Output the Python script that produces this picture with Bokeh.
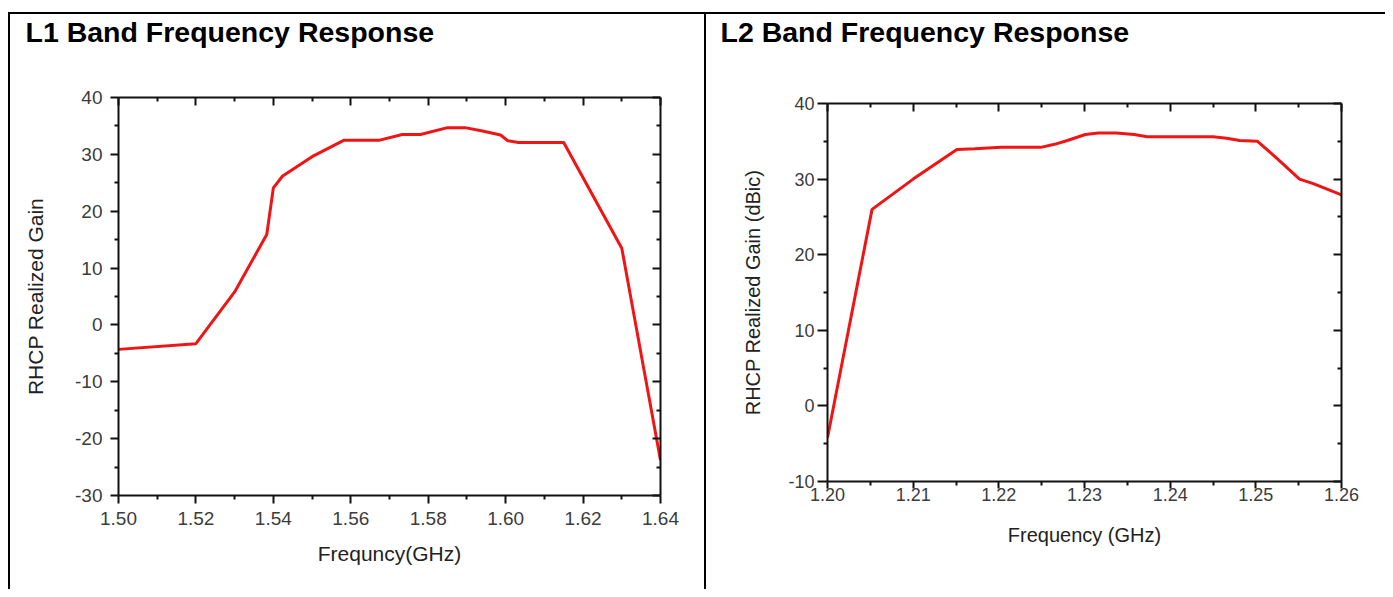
from bokeh.plotting import figure
from bokeh.models import (Range1d, FixedTicker, LinearAxis, PrintfTickFormatter,
                          CustomJSTickFormatter, Spacer)
from bokeh.layouts import row, column
from bokeh.embed import file_html
from bokeh.resources import INLINE

# ---------------- data ----------------
l1_title = "L1 Band Frequency Response"
l1_xlabel = "Frequncy(GHz)"
l1_ylabel = "RHCP Realized Gain"
l1_freq = [1.500, 1.520, 1.530, 1.5383, 1.540, 1.5424, 1.550, 1.5583, 1.5675, 1.5733,
           1.578, 1.585, 1.5895, 1.594, 1.5987, 1.6005, 1.6033, 1.615, 1.630, 1.640]
l1_gain = [-4.3, -3.3, 5.8, 15.9, 24.1, 26.2, 29.6, 32.5, 32.5, 33.5,
           33.5, 34.7, 34.7, 34.1, 33.4, 32.4, 32.1, 32.1, 13.5, -23.8]
l1_xticks = [1.50, 1.52, 1.54, 1.56, 1.58, 1.60, 1.62, 1.64]
l1_xminor = [1.51, 1.53, 1.55, 1.57, 1.59, 1.61, 1.63]
l1_yticks = [-30, -20, -10, 0, 10, 20, 30, 40]
l1_yminor = [-25, -15, -5, 5, 15, 25, 35]

l2_title = "L2 Band Frequency Response"
l2_xlabel = "Frequency (GHz)"
l2_ylabel = "RHCP Realized Gain (dBic)"
l2_freq = [1.200, 1.2052, 1.210, 1.2151, 1.2172, 1.2203, 1.2249, 1.2265, 1.228, 1.2301,
           1.2316, 1.2337, 1.2358, 1.2373, 1.245, 1.2466, 1.2481, 1.2502, 1.2523, 1.2551,
           1.2567, 1.260]
l2_gain = [-4.2, 26.0, 30.0, 33.9, 34.0, 34.2, 34.2, 34.6, 35.1, 35.9,
           36.1, 36.1, 35.9, 35.6, 35.6, 35.4, 35.1, 35.0, 32.9, 30.0,
           29.4, 27.9]
l2_xticks = [1.20, 1.21, 1.22, 1.23, 1.24, 1.25, 1.26]
l2_xminor = [1.205, 1.215, 1.225, 1.235, 1.245, 1.255]
l2_yticks = [-10, 0, 10, 20, 30, 40]
l2_yminor = [-5, 5, 15, 25, 35]

FONT = "Liberation Sans"
LINE_RED = "#f01414"
TXT = "#3c3c3c"


def mirror_axis(ticker):
    # top / right frame edge with inward ticks and no labels
    return LinearAxis(ticker=ticker, formatter=CustomJSTickFormatter(code="return ''"),
                      axis_line_width=2, axis_line_color="#111111",
                      major_tick_in=8, major_tick_out=0, minor_tick_in=4, minor_tick_out=0,
                      major_tick_line_width=2, minor_tick_line_width=2,
                      major_tick_line_color="#111111", minor_tick_line_color="#111111",
                      major_label_standoff=0)


def make_chart(title, xlabel, ylabel, freq, gain, xticks, xminor, yticks, yminor,
               xr, yr, width, height, borders, title_offset, title_standoff, top_gap,
               tick_fs, label_fs, ytick_out, ystand, xtick_out, xstand, ylab_stand, xlab_stand):
    p = figure(width=width, height=height, output_backend="svg", toolbar_location=None,
               x_range=Range1d(*xr), y_range=Range1d(*yr),
               min_border_left=borders[0], min_border_right=borders[1],
               min_border_top=borders[2], min_border_bottom=borders[3],
               background_fill_color="white", border_fill_color="white",
               outline_line_color=None, title=title)
    p.title.align = "left"
    p.title.offset = title_offset
    p.title.standoff = title_standoff
    p.title.text_font = FONT
    p.title.text_font_size = "28.5px"
    p.title.text_font_style = "bold"
    p.title.text_color = "black"
    p.grid.visible = False

    xt = FixedTicker(ticks=xticks, minor_ticks=xminor)
    yt = FixedTicker(ticks=yticks, minor_ticks=yminor)

    for ax, tk, fmt, tout, stand, lab, lstand in (
            (p.xaxis[0], xt, "%.2f", xtick_out, xstand, xlabel, xlab_stand),
            (p.yaxis[0], yt, "%d", ytick_out, ystand, ylabel, ylab_stand)):
        ax.ticker = tk
        ax.formatter = PrintfTickFormatter(format=fmt)
        ax.axis_line_width = 2
        ax.axis_line_color = "#111111"
        ax.major_tick_line_width = 2
        ax.major_tick_line_color = "#111111"
        ax.minor_tick_line_width = 2
        ax.minor_tick_line_color = "#111111"
        ax.major_tick_in = 0
        ax.major_tick_out = tout
        ax.minor_tick_in = 0
        ax.minor_tick_out = 4
        ax.major_label_standoff = stand
        ax.major_label_text_font = FONT
        ax.major_label_text_font_size = tick_fs
        ax.major_label_text_color = TXT
        ax.axis_label = lab
        ax.axis_label_text_font = FONT
        ax.axis_label_text_font_size = label_fs
        ax.axis_label_text_font_style = "normal"
        ax.axis_label_text_color = "#222222"
        ax.axis_label_standoff = lstand

    p.add_layout(mirror_axis(xt), "above")
    # blank band between the cell heading and the plot frame
    gap_axis = LinearAxis(ticker=xt, formatter=CustomJSTickFormatter(code="return ''"),
                          axis_line_color=None, major_tick_line_color=None,
                          minor_tick_line_color=None, major_tick_in=0,
                          major_tick_out=top_gap, minor_tick_in=0, minor_tick_out=0,
                          major_label_standoff=0)
    p.add_layout(gap_axis, "above")
    p.add_layout(mirror_axis(yt), "right")

    p.line(freq, gain, line_color=LINE_RED, line_width=3)
    return p


p1 = make_chart(l1_title, l1_xlabel, l1_ylabel, l1_freq, l1_gain, l1_xticks, l1_xminor,
                l1_yticks, l1_yminor, (1.50, 1.64), (-30, 40), 694, 575,
                (108, 44, 83, 94), -93, -25, 62, "19px", "21px",
                8, 8, 8, 8, 25, 14)
p2 = make_chart(l2_title, l2_xlabel, l2_ylabel, l2_freq, l2_gain, l2_xticks, l2_xminor,
                l2_yticks, l2_yminor, (1.20, 1.26), (-10, 40), 679, 575,
                (121, 44, 89, 108), -107, -25, 68, "18px", "20px",
                10, 3, 7, -1, 21, 20)

vline1 = Spacer(width=2, height=575, styles={"background-color": "black"})
vline2 = Spacer(width=2, height=575, styles={"background-color": "black"})
hline = Spacer(width=1377, height=2, styles={"background-color": "black"})
gap = Spacer(width=1385, height=12)
lgap = Spacer(width=8, height=577)

table = column(hline, row(vline1, column(p1), vline2, column(p2)))
layout = column(gap, row(lgap, table))

open("out.html", "w").write(file_html(layout, INLINE))
